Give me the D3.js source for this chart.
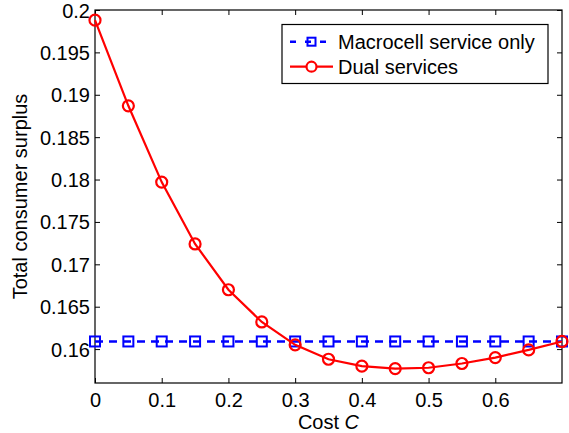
<!DOCTYPE html>
<html><head><meta charset="utf-8">
<script src="https://cdn.jsdelivr.net/npm/d3@7"></script>
<style>body{margin:0;background:#fff}svg{display:block}text{font-family:"Liberation Sans",Arial,sans-serif}</style>
</head><body>
<script>
const costs = [0,0.05,0.1,0.15,0.2,0.25,0.3,0.35,0.4,0.45,0.5,0.55,0.6,0.65,0.7];
const macroValues = [0.1609,0.1609,0.1609,0.1609,0.1609,0.1609,0.1609,0.1609,0.1609,0.1609,0.1609,0.1609,0.1609,0.1609,0.1609];
const dualValues = [0.1988,0.1887,0.1797,0.1724,0.1670,0.1632,0.1605,0.1588,0.1580,0.1577,0.1578,0.1583,0.1590,0.1599,0.1609];
const xTicks = [0,0.1,0.2,0.3,0.4,0.5,0.6];
const yTicks = [0.16,0.165,0.17,0.175,0.18,0.185,0.19,0.195,0.2];
const seriesNames = ["Macrocell service only","Dual services"];

const W=569,H=433, L=95,R=562,T=10,B=383;
const svg=d3.select("body").append("svg").attr("width",W).attr("height",H);
const x=d3.scaleLinear().domain([0,0.7]).range([L,R]);
const y=d3.scaleLinear().domain([0.156,0.2]).range([B,T]);
const fs=20;

svg.append("rect").attr("x",L).attr("y",T).attr("width",R-L).attr("height",B-T).attr("fill","none").attr("stroke","#000").attr("stroke-width",1.2);

const fmt=d=>String(+d.toFixed(3));
const gx=svg.append("g").attr("transform",`translate(0,${B})`).call(d3.axisBottom(x).tickValues(xTicks).tickSize(-5).tickPadding(10).tickFormat(fmt));
const gxt=svg.append("g").attr("transform",`translate(0,${T})`).call(d3.axisTop(x).tickValues(xTicks).tickSize(-5).tickFormat(""));
const gy=svg.append("g").attr("transform",`translate(${L},0)`).call(d3.axisLeft(y).tickValues(yTicks).tickSize(-5).tickPadding(5).tickFormat(fmt));
const gyr=svg.append("g").attr("transform",`translate(${R},0)`).call(d3.axisRight(y).tickValues(yTicks).tickSize(-5).tickFormat(""));
[gx,gxt,gy,gyr].forEach(g=>{g.attr("font-size",fs);g.select(".domain").remove();g.selectAll("line").attr("stroke","#000");g.selectAll("text").attr("font-size",fs).attr("fill","#000").attr("font-family","Liberation Sans, Arial, sans-serif");});
gx.selectAll("text").attr("dy","0.71em");
gy.selectAll("text").attr("dy","0.35em");

const xl=svg.append("text").attr("x",(L+R)/2).attr("y",429).attr("text-anchor","middle").attr("font-size",fs);
xl.append("tspan").text("Cost ");
xl.append("tspan").attr("font-style","italic").text("C");
svg.append("text").attr("transform",`translate(27,${(T+B)/2}) rotate(-90)`).attr("text-anchor","middle").attr("font-size",fs).text("Total consumer surplus");

const macro=costs.map((c,i)=>[c,macroValues[i]]);
const dual=costs.map((c,i)=>[c,dualValues[i]]);
const line=d3.line().x(d=>x(d[0])).y(d=>y(d[1]));

svg.append("path").attr("d",line(macro)).attr("fill","none").attr("stroke","#0000ff").attr("stroke-width",2.5).attr("stroke-dasharray","8,6");
svg.selectAll(".sq").data(macro).enter().append("rect").attr("x",d=>x(d[0])-5).attr("y",d=>y(d[1])-5).attr("width",10).attr("height",10).attr("fill","none").attr("stroke","#0000ff").attr("stroke-width",2);

svg.append("path").attr("d",line(dual)).attr("fill","none").attr("stroke","#ff0000").attr("stroke-width",2.2);
svg.selectAll(".ci").data(dual).enter().append("circle").attr("cx",d=>x(d[0])).attr("cy",d=>y(d[1])).attr("r",5.5).attr("fill","none").attr("stroke","#ff0000").attr("stroke-width",2.2);

const lg=svg.append("g");
lg.append("rect").attr("x",282).attr("y",24.5).attr("width",266).attr("height",59).attr("fill","#fff").attr("stroke","#000").attr("stroke-width",1.2);
const ly=[41.7,66.7];
lg.append("line").attr("x1",290).attr("x2",333).attr("y1",ly[0]).attr("y2",ly[0]).attr("stroke","#0000ff").attr("stroke-width",2.5).attr("stroke-dasharray","6,9");
lg.append("rect").attr("x",311.5-4).attr("y",ly[0]-4).attr("width",8).attr("height",8).attr("fill","none").attr("stroke","#0000ff").attr("stroke-width",2);
lg.append("line").attr("x1",290).attr("x2",333).attr("y1",ly[1]).attr("y2",ly[1]).attr("stroke","#ff0000").attr("stroke-width",2.2);
lg.append("circle").attr("cx",311.5).attr("cy",ly[1]).attr("r",5).attr("fill","#fff").attr("stroke","#ff0000").attr("stroke-width",2.2);
seriesNames.forEach((n,i)=>lg.append("text").attr("x",338).attr("y",ly[i]).attr("dy","0.35em").attr("font-size",fs).text(n));
</script>
</body></html>
